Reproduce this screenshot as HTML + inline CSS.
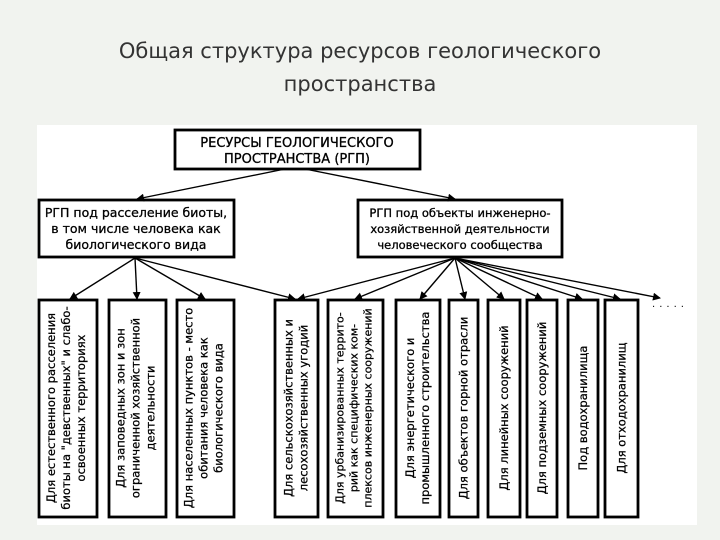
<!DOCTYPE html>
<html><head><meta charset="utf-8"><style>
html,body{margin:0;padding:0;background:#f1f3ef;}
body{width:720px;height:540px;overflow:hidden;position:relative;font-family:"DejaVu Sans","Liberation Sans",sans-serif;}
.t{position:absolute;left:0;width:720px;text-align:center;font-size:21px;color:#333;line-height:33px;top:35px;}
svg{position:absolute;left:0;top:0;}
</style></head><body>
<div class="t">Общая структура ресурсов геологического<br>пространства</div>
<svg width="720" height="540" viewBox="0 0 720 540" font-family="DejaVu Sans, Liberation Sans, sans-serif">
<defs><marker id="a" markerWidth="8" markerHeight="8" refX="7" refY="4" orient="auto" markerUnits="userSpaceOnUse"><path d="M0,0 L8,4 L0,8 Z" fill="#000"/></marker></defs>
<rect x="37" y="125" width="660" height="400" fill="#fff"/>
<g fill="none" stroke="#000" stroke-width="2.8">
<rect x="175" y="130" width="245" height="39"/>
<rect x="39" y="200" width="195" height="57"/>
<rect x="358" y="200" width="204" height="57"/>
<rect x="39" y="300" width="58" height="217"/>
<rect x="109" y="300" width="57" height="217"/>
<rect x="177" y="300" width="57" height="217"/>
<rect x="275" y="300" width="43" height="217"/>
<rect x="328" y="300" width="55" height="217"/>
<rect x="396" y="300" width="44" height="217"/>
<rect x="449" y="300" width="29" height="217"/>
<rect x="488" y="300" width="32" height="217"/>
<rect x="527" y="300" width="30" height="217"/>
<rect x="568" y="300" width="30" height="217"/>
<rect x="605" y="300" width="33" height="217"/>
</g>
<g stroke="#000" stroke-width="1.4" marker-end="url(#a)">
<line x1="285" y1="169" x2="137" y2="199"/>
<line x1="305" y1="169" x2="455" y2="199"/>
<line x1="135" y1="258" x2="70" y2="299"/>
<line x1="135" y1="258" x2="137" y2="299"/>
<line x1="135" y1="258" x2="205" y2="299"/>
<line x1="135" y1="258" x2="295" y2="299"/>
<line x1="455" y1="258" x2="298" y2="299"/>
<line x1="455" y1="258" x2="355" y2="299"/>
<line x1="455" y1="258" x2="420" y2="299"/>
<line x1="455" y1="258" x2="465" y2="299"/>
<line x1="455" y1="258" x2="504" y2="299"/>
<line x1="455" y1="258" x2="542" y2="299"/>
<line x1="455" y1="258" x2="582" y2="299"/>
<line x1="455" y1="258" x2="620" y2="299"/>
<line x1="455" y1="258" x2="660" y2="298"/>
</g>
<text x="670" y="307" font-size="10" text-anchor="middle" letter-spacing="4">.....</text>
<g text-anchor="middle" fill="#000" stroke="#000" stroke-width="0.3">
<text x="297" y="147" font-size="13">РЕСУРСЫ ГЕОЛОГИЧЕСКОГО</text>
<text x="297" y="163" font-size="13">ПРОСТРАНСТВА (РГП)</text>
<text x="136" y="217" font-size="12.5">РГП под расселение биоты,</text>
<text x="136" y="233" font-size="12.5">в том числе человека как</text>
<text x="136" y="249" font-size="12.5">биологического вида</text>
<text x="460" y="217" font-size="11.5">РГП под объекты инженерно-</text>
<text x="460" y="233" font-size="11.5">хозяйственной деятельности</text>
<text x="460" y="249" font-size="11.5">человеческого сообщества</text>
</g>
<g font-size="11.5" text-anchor="middle" fill="#000" stroke="#000" stroke-width="0.25">
<g transform="translate(68,408) rotate(-90)"><text y="-13">Для естественного расселения</text><text y="2">биоты на "девственных" и слабо-</text><text y="17">освоенных территориях</text></g>
<g transform="translate(137.5,408) rotate(-90)"><text y="-13">Для заповедных зон и зон</text><text y="2">ограниченной хозяйственной</text><text y="17">деятельности</text></g>
<g transform="translate(205.5,408) rotate(-90)"><text y="-13">Для населенных пунктов - место</text><text y="2">обитания человека как</text><text y="17">биологического вида</text></g>
<g transform="translate(296.5,408) rotate(-90)"><text y="-4">Для сельскохозяйственных и</text><text y="11">лесохозяйственных угодий</text></g>
<g transform="translate(355.5,408) rotate(-90)" font-size="11"><text y="-12">Для урбанизированных террито-</text><text y="2">рий как специфических ком-</text><text y="16">плексов инженерных сооружений</text></g>
<g transform="translate(418,408) rotate(-90)"><text y="-4">Для энергетического и</text><text y="11">промышленного строительства</text></g>
<g transform="translate(463.5,408) rotate(-90)"><text y="4">Для объектов горной отрасли</text></g>
<g transform="translate(504,408) rotate(-90)"><text y="4">Для линейных сооружений</text></g>
<g transform="translate(542,408) rotate(-90)"><text y="4">Для подземных сооружений</text></g>
<g transform="translate(583,408) rotate(-90)"><text y="4">Под водохранилища</text></g>
<g transform="translate(621.5,408) rotate(-90)"><text y="4">Для отходохранилищ</text></g>
</g>
</svg>
</body></html>
